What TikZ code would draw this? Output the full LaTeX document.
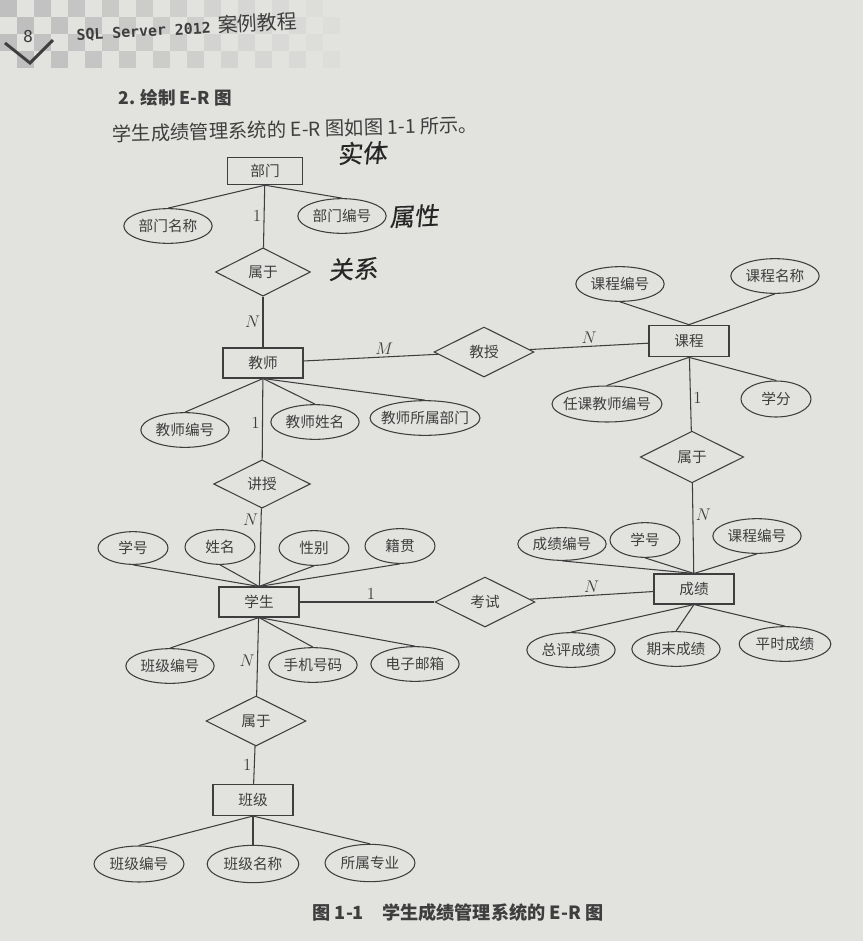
\documentclass[tikz,border=0pt]{standalone}
\usepackage{fontspec}
\setmainfont{Noto Sans CJK SC}
\newfontfamily\monofont{DejaVu Sans Mono}
\newfontfamily\handfont[FakeSlant=0.15, FakeBold=0.4]{Noto Sans CJK SC}
\usetikzlibrary{shapes.geometric}
\definecolor{paper}{RGB}{226,226,223}
\definecolor{ink}{RGB}{62,62,62}
\tikzstyle{entity} = [rectangle, draw=ink, text=ink, minimum width=2.4cm, minimum height=0.9cm, inner sep=0pt]
\tikzstyle{relation} = [diamond, draw=ink, text=ink, minimum width=3cm, minimum height=1.5cm, inner sep=0pt]
\tikzstyle{attr} = [ellipse, draw=ink, text=ink, minimum width=2.65cm, minimum height=1.04cm, inner xsep=-8pt, inner ysep=0pt]
\tikzstyle{attrshort} = [attr, minimum width=2.1cm]
\tikzstyle{attrlong} = [attr, minimum width=3.3cm]
\tikzstyle{link} = [draw=ink, line width=0.9pt]
\tikzstyle{card} = [text=ink, font=\fontsize{13.5}{14}\selectfont, inner sep=2pt]
\tikzstyle{hand} = [text=black!85, font=\handfont\fontsize{21}{22}\selectfont]

\begin{document}
\begin{tikzpicture}[x=0.03cm, y=-0.03cm, line width=0.9pt, font=\fontsize{12.5}{14}\selectfont]
\useasboundingbox (0,0) rectangle (863,941);
\fill [paper] (0,0) rectangle (863,941);

% Page header
\foreach \i in {0,2,...,18} {
  \foreach \j in {0,2} {
    \fill [black!25, opacity={1-\i/21}] (\i*17,\j*17) rectangle ++(17,17);
    \fill [black!25, opacity={1-\i/21}] (\i*17+17,\j*17+17) rectangle ++(17,17);
  }
}
\draw [ink, line width=2.5pt] (5,43) -- (30,63) -- (53,40);
\node (pagenum) [text=ink, font=\monofont\fontsize{14}{15}\selectfont] at (28,37) {8};
\node (header) [anchor=west, rotate=3, text=ink] at (72,33)
{{\monofont\fontsize{12.7}{15}\selectfont\bfseries SQL Server 2012}\hspace{6pt}{\fontsize{17}{18}\selectfont 案例教程}};
\node (section) [anchor=west, text=ink, font=\fontsize{15}{16}\selectfont\bfseries] at (114,98) {2. 绘制 E-R 图};
\node (intro) [anchor=west, rotate=1.5, text=ink, font=\fontsize{16.5}{18}\selectfont] at (108,134) {学生成绩管理系统的 E-R 图如图 1-1 所示。};

% Entities
\node (bumen) [entity, minimum width=2.25cm, minimum height=0.82cm] at (265,171) {部门};
\node (jiaoshi) [entity] at (263,363) {教师};
\node (kecheng) [entity, minimum height=0.95cm] at (689,341) {课程};
\node (chengji) [entity] at (694,589) {成绩};
\node (xuesheng) [entity] at (259,602) {学生};
\node (banji) [entity, minimum height=0.93cm] at (253,800) {班级};

% Relations
\node (shuyuA) [relation, minimum width=2.85cm, minimum height=1.45cm] at (263,272) {属于};
\node (jiaoshou) [relation] at (484,352) {教授};
\node (shuyuB) [relation, minimum width=3.1cm, minimum height=1.55cm] at (692,457) {属于};
\node (jiangshou) [relation, minimum width=2.9cm, minimum height=1.45cm] at (262,484) {讲授};
\node (kaoshi) [relation] at (485,602) {考试};
\node (shuyuC) [relation] at (256,721) {属于};

% Attributes
\node (bmmc) [attr] at (168,226) {部门名称};
\node (bmbh) [attr] at (342,216) {部门编号};
\node (jsbh) [attr] at (185,430) {教师编号};
\node (jsxm) [attr] at (315,422) {教师姓名};
\node (jsbm) [attrlong] at (425,418) {教师所属部门};
\node (kcbh) [attr] at (620,284) {课程编号};
\node (kcmc) [attr] at (775,276) {课程名称};
\node (rkjs) [attrlong, minimum height=1.08cm] at (607,404) {任课教师编号};
\node (xuefen) [attrshort, minimum height=1.08cm] at (776,399) {学分};
\node (cjbh) [attr, minimum height=0.98cm] at (562,544) {成绩编号};
\node (cjxh) [attrshort] at (645,540) {学号};
\node (cjkc) [attr] at (757,536) {课程编号};
\node (zpcj) [attr] at (571,650) {总评成绩};
\node (qmcj) [attr] at (676,649) {期末成绩};
\node (pscj) [attr, minimum width=2.75cm] at (785,644) {平时成绩};
\node (xsxh) [attrshort, minimum height=0.98cm] at (133,548) {学号};
\node (xsxm) [attrshort] at (220,547) {姓名};
\node (xsxb) [attrshort] at (314,548) {性别};
\node (xsjg) [attrshort] at (400,546) {籍贯};
\node (xsbj) [attr] at (170,666) {班级编号};
\node (xssj) [attr] at (313,665) {手机号码};
\node (xsyx) [attr] at (415,664) {电子邮箱};
\node (bjbh) [attr, minimum width=2.7cm, minimum height=1.08cm] at (139,864) {班级编号};
\node (bjmc) [attr, minimum width=2.75cm, minimum height=1.12cm] at (253,864) {班级名称};
\node (sszy) [attr, minimum width=2.7cm, minimum height=1.12cm] at (370,863) {所属专业};

% Notes written by hand
\node (noteA) [hand, rotate=2] at (362,153) {实体};
\node (noteB) [hand, rotate=2] at (414,216) {属性};
\node (noteC) [hand, rotate=2] at (353,269) {关系};

% Caption
\node (caption) [text=ink, font=\fontsize{15.5}{17}\selectfont\bfseries] at (458,913) {图 1-1\quad 学生成绩管理系统的 E-R 图};

% Connections
\draw [link] (bumen.south) -- (bmmc.north);
\draw [link] (bumen.south) -- (bmbh.north);
\draw [link] (bumen) -- node[card, left]{$1$} (shuyuA);
\draw [link] (shuyuA) -- node[card, left]{$N$} (jiaoshi);

\draw [link] (jiaoshi) -- node[card, above, pos=0.6]{$M$} (jiaoshou);
\draw [link] (jiaoshou) -- node[card, above]{$N$} (kecheng);
\draw [link] (jiaoshi.south) -- (jsbh.north);
\draw [link] (jiaoshi.south) -- (jsxm.north);
\draw [link] (jiaoshi.south) -- (jsbm.north);
\draw [link] (jiaoshi) -- node[card, left, pos=0.55]{$1$} (jiangshou);
\draw [link] (jiangshou) -- node[card, left, pos=0.15]{$N$} (xuesheng);

\draw [link] (kecheng.north) -- (kcbh.south);
\draw [link] (kecheng.north) -- (kcmc.south);
\draw [link] (kecheng.south) -- (rkjs.north);
\draw [link] (kecheng.south) -- (xuefen.north);
\draw [link] (kecheng) -- node[card, right, pos=0.55]{$1$} (shuyuB);
\draw [link] (shuyuB) -- node[card, right, pos=0.35]{$N$} (chengji);

\draw [link] (chengji.north) -- (cjbh.south);
\draw [link] (chengji.north) -- (cjxh.south);
\draw [link] (chengji.north) -- (cjkc.south);
\draw [link] (chengji.south) -- (zpcj.north);
\draw [link] (chengji.south) -- (qmcj.north);
\draw [link] (chengji.south) -- (pscj.north);

\draw [link] (xuesheng.north) -- (xsxh.south);
\draw [link] (xuesheng.north) -- (xsxm.south);
\draw [link] (xuesheng.north) -- (xsxb.south);
\draw [link] (xuesheng.north) -- (xsjg.south);
\draw [link] (xuesheng.south) -- (xsbj.north);
\draw [link] (xuesheng.south) -- (xssj.north);
\draw [link] (xuesheng.south) -- (xsyx.north);
\draw [link] (xuesheng) -- node[card, above, pos=0.53]{$1$} (kaoshi);
\draw [link] (kaoshi) -- node[card, above]{$N$} (chengji);
\draw [link] (xuesheng) -- node[card, left, pos=0.55]{$N$} (shuyuC);
\draw [link] (shuyuC) -- node[card, left]{$1$} (banji);

\draw [link] (banji.south) -- (bjbh.north);
\draw [link] (banji.south) -- (bjmc.north);
\draw [link] (banji.south) -- (sszy.north);

\end{tikzpicture}
\end{document}
